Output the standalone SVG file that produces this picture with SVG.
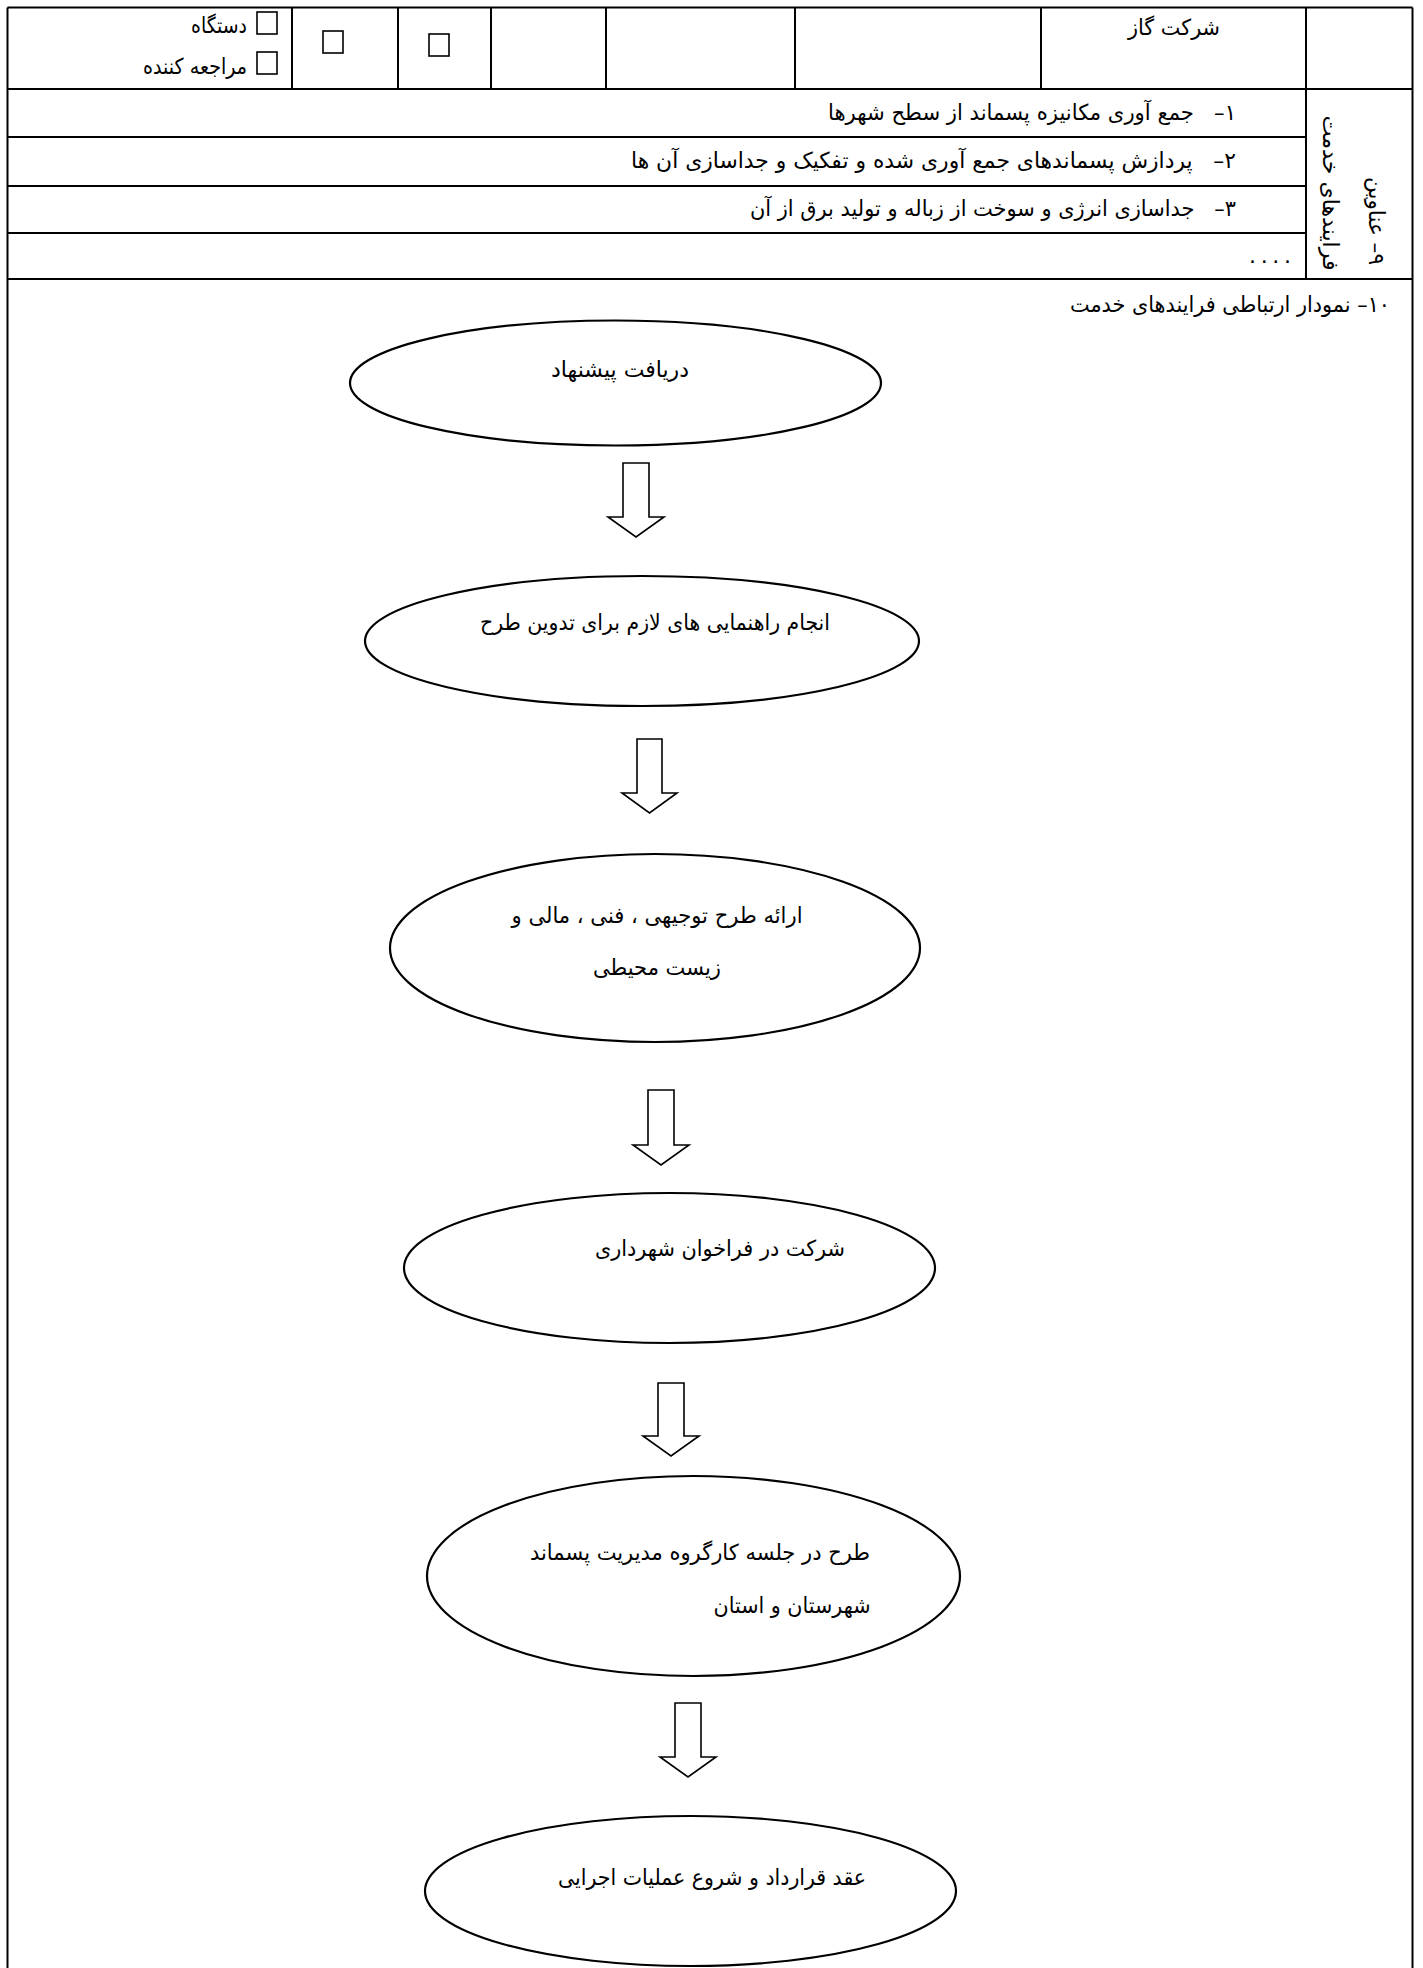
<svg xmlns="http://www.w3.org/2000/svg" width="1423" height="1968" viewBox="0 0 1423 1968">
<style>
.ln{stroke:#000;stroke-width:2;fill:none}
.cb{stroke:#000;stroke-width:1.6;fill:#fff}
.t{font-family:"DejaVu Sans","Noto Sans",sans-serif;font-size:22px;fill:#000;text-anchor:middle;direction:rtl}
.node ellipse{stroke:#000;stroke-width:2.2;fill:#fff}
.arr{stroke:#000;stroke-width:1.6;fill:#fff;stroke-linejoin:miter}
</style>
<rect width="1423" height="1968" fill="#fff"/>
<g id="table">
<line class="ln" x1="7.5" y1="7.5" x2="1412.5" y2="7.5"/>
<line class="ln" x1="7.5" y1="7.5" x2="7.5" y2="1968"/>
<line class="ln" x1="1412.5" y1="7.5" x2="1412.5" y2="1968"/>
<line class="ln" x1="7.5" y1="89" x2="1412.5" y2="89"/>
<line class="ln" x1="7.5" y1="137" x2="1306" y2="137"/>
<line class="ln" x1="7.5" y1="186" x2="1306" y2="186"/>
<line class="ln" x1="7.5" y1="233" x2="1306" y2="233"/>
<line class="ln" x1="7.5" y1="279" x2="1412.5" y2="279"/>
<line class="ln" x1="1306" y1="7.5" x2="1306" y2="279"/>
<line class="ln" x1="292" y1="7.5" x2="292" y2="89"/>
<line class="ln" x1="398" y1="7.5" x2="398" y2="89"/>
<line class="ln" x1="491" y1="7.5" x2="491" y2="89"/>
<line class="ln" x1="606" y1="7.5" x2="606" y2="89"/>
<line class="ln" x1="795" y1="7.5" x2="795" y2="89"/>
<line class="ln" x1="1041" y1="7.5" x2="1041" y2="89"/>
<rect class="cb" x="257" y="12" width="20" height="22"/>
<rect class="cb" x="257" y="52" width="20" height="22"/>
<rect class="cb" x="323" y="31" width="20" height="22"/>
<rect class="cb" x="429" y="34" width="20" height="22"/>
<text class="t" x="219" y="33" textLength="56" lengthAdjust="spacingAndGlyphs">دستگاه</text>
<text class="t" x="195" y="74" textLength="104" lengthAdjust="spacingAndGlyphs">مراجعه کننده</text>
<text class="t" x="1174" y="35" textLength="92" lengthAdjust="spacingAndGlyphs">شرکت گاز</text>
<text class="t" x="1032" y="120" textLength="408" lengthAdjust="spacingAndGlyphs">۱–&#160;&#160;&#160;جمع آوری مکانیزه پسماند از سطح شهرها</text>
<text class="t" x="933.5" y="168" textLength="605" lengthAdjust="spacingAndGlyphs">۲–&#160;&#160;&#160;پردازش پسماندهای جمع آوری شده و تفکیک و جداسازی آن ها</text>
<text class="t" x="993" y="216" textLength="486" lengthAdjust="spacingAndGlyphs">۳–&#160;&#160;&#160;جداسازی انرژی و سوخت از زباله و تولید برق از آن</text>
<text class="t" x="1270" y="263" style="direction:ltr" textLength="42" lengthAdjust="spacing">. . . .</text>
<text class="t" transform="translate(1369,221) rotate(90)" x="0" y="0" textLength="88" lengthAdjust="spacingAndGlyphs">۹– عناوین</text>
<text class="t" transform="translate(1323,193) rotate(90)" x="0" y="0" textLength="155" lengthAdjust="spacingAndGlyphs">فرایندهای خدمت</text>
<text class="t" x="1230" y="312" textLength="320" lengthAdjust="spacingAndGlyphs">۱۰– نمودار ارتباطی فرایندهای خدمت</text>
</g>
<g id="connectors">
<path class="arr" d="M623,463 H649 V517 H664 L636,537 L608,517 H623 Z"/>
<path class="arr" d="M637,739 H662 V793 H677 L649.5,813 L622,793 H637 Z"/>
<path class="arr" d="M648,1090 H674 V1145 H689 L661,1165 L633,1145 H648 Z"/>
<path class="arr" d="M658,1383 H684 V1436 H699 L671,1456 L643,1436 H658 Z"/>
<path class="arr" d="M675,1703 H701 V1757 H716 L688,1777 L660,1757 H675 Z"/>
</g>
<g id="n1" class="node">
<ellipse cx="615.5" cy="383" rx="265.5" ry="62.5"/>
<text class="t" x="620" y="377" textLength="138" lengthAdjust="spacingAndGlyphs">دریافت پیشنهاد</text>
</g>
<g id="n2" class="node">
<ellipse cx="642" cy="641" rx="277" ry="65"/>
<text class="t" x="655" y="630" textLength="350" lengthAdjust="spacingAndGlyphs">انجام راهنمایی های لازم برای تدوین طرح</text>
</g>
<g id="n3" class="node">
<ellipse cx="655" cy="948" rx="265" ry="94"/>
<text class="t" x="657" y="923" textLength="291" lengthAdjust="spacingAndGlyphs">ارائه طرح توجیهی ، فنی ، مالی و</text>
<text class="t" x="657" y="975" textLength="128" lengthAdjust="spacingAndGlyphs">زیست محیطی</text>
</g>
<g id="n4" class="node">
<ellipse cx="669.5" cy="1268" rx="265.5" ry="75"/>
<text class="t" x="720" y="1256" textLength="250" lengthAdjust="spacingAndGlyphs">شرکت در فراخوان شهرداری</text>
</g>
<g id="n5" class="node">
<ellipse cx="693.5" cy="1576" rx="266.5" ry="100"/>
<text class="t" x="700" y="1560" textLength="340" lengthAdjust="spacingAndGlyphs">طرح در جلسه کارگروه مدیریت پسماند</text>
<text class="t" x="792" y="1613" textLength="157" lengthAdjust="spacingAndGlyphs">شهرستان و استان</text>
</g>
<g id="n6" class="node">
<ellipse cx="690.5" cy="1891" rx="265.5" ry="75"/>
<text class="t" x="712" y="1885" textLength="308" lengthAdjust="spacingAndGlyphs">عقد قرارداد و شروع عملیات اجرایی</text>
</g>
</svg>
